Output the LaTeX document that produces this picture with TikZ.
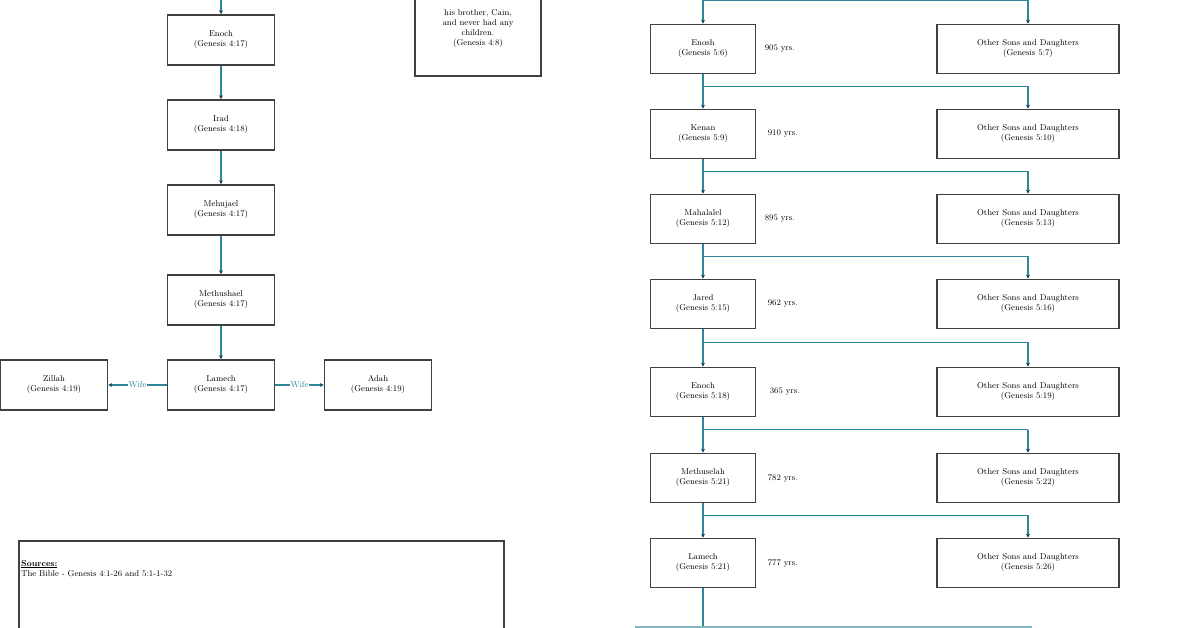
\documentclass[tikz,border=0pt]{standalone}
\usepackage{tikz}
\usetikzlibrary{arrows.meta}
\usetikzlibrary{calc}
\usetikzlibrary{positioning}
\definecolor{linkteal}{RGB}{45,135,155}
\definecolor{tipblue}{RGB}{20,60,80}
\begin{document}
\begin{tikzpicture}[x=1pt,y=-1pt,font=\fontsize{8.5}{10}\selectfont\rmfamily]
	\useasboundingbox (0,0) rectangle (1196,628);
	\clip (0,0) rectangle (1196,628);
	\tikzset{box/.style={draw=black!75,line width=1.6pt,align=center,inner sep=1pt},
	         link/.style={draw=linkteal,line width=1.6pt},
	         arr/.style={link,-{Stealth[tipblue,length=4pt,width=4pt]}}}
	\begin{scope}[every node/.style={box,minimum width=107pt,minimum height=50pt}]
		\node (enoch) at (221,40) {Enoch\\(Genesis 4:17)};
		\node (irad) at (221,125) {Irad\\(Genesis 4:18)};
		\node (mehujael) at (221,210) {Mehujael\\(Genesis 4:17)};
		\node (methushael) at (221,300) {Methushael\\(Genesis 4:17)};
		\node (lamechA) at (221,385) {Lamech\\(Genesis 4:17)};
		\node (zillah) at (54,385) {Zillah\\(Genesis 4:19)};
		\node (adah) at (378,385) {Adah\\(Genesis 4:19)};
	\end{scope}
	\node[box,minimum width=126pt,minimum height=110pt,anchor=south] (abel) at (478,77)
		{~\\~\\his brother, Cain,\\and never had any\\children.\\(Genesis 4:8)};
	% line of Seth
	\begin{scope}[every node/.style={box,minimum width=105pt,minimum height=49pt}]
		\node (enosh) at (703,49) {Enosh\\(Genesis 5:6)};
		\node (kenan) at (703,134) {Kenan\\(Genesis 5:9)};
		\node (mahalalel) at (703,219) {Mahalalel\\(Genesis 5:12)};
		\node (jared) at (703,304) {Jared\\(Genesis 5:15)};
		\node (enochB) at (703,392) {Enoch\\(Genesis 5:18)};
		\node (methuselah) at (703,478) {Methuselah\\(Genesis 5:21)};
		\node (lamechB) at (703,563) {Lamech\\(Genesis 5:21)};
	\end{scope}
	\begin{scope}[every node/.style={box,minimum width=182pt,minimum height=49pt}]
		\node (os1) at (1028,49) {Other Sons and Daughters\\(Genesis 5:7)};
		\node (os2) at (1028,134) {Other Sons and Daughters\\(Genesis 5:10)};
		\node (os3) at (1028,219) {Other Sons and Daughters\\(Genesis 5:13)};
		\node (os4) at (1028,304) {Other Sons and Daughters\\(Genesis 5:16)};
		\node (os5) at (1028,392) {Other Sons and Daughters\\(Genesis 5:19)};
		\node (os6) at (1028,478) {Other Sons and Daughters\\(Genesis 5:22)};
		\node (os7) at (1028,563) {Other Sons and Daughters\\(Genesis 5:26)};
	\end{scope}
	\begin{scope}[every node/.style={anchor=west}]
		\node[right=5pt of enosh] {905 yrs.};
		\node[right=8pt of kenan] {910 yrs.};
		\node[right=5pt of mahalalel] {895 yrs.};
		\node[right=8pt of jared] {962 yrs.};
		\node[right=10pt of enochB] {365 yrs.};
		\node[right=8pt of methuselah] {782 yrs.};
		\node[right=8pt of lamechB] {777 yrs.};
	\end{scope}
	% sources
	\node[box,minimum width=485pt,minimum height=120pt,anchor=north west] (sources) at (18,540) {};
	\node[anchor=north west,align=left,inner sep=0pt] (srctext) at ([shift={(3,20)}]sources.north west)
		{\underline{\textbf{Sources:}}\\The Bible - Genesis 4:1-26 and 5:1-1-32};
	\node[draw=linkteal!60,line width=1.6pt,minimum width=395pt,minimum height=40pt,anchor=north west] (next) at (635,626) {};
	% connectors
	\coordinate (topL) at (703,-5);
	\draw[arr] (topL) -- (enosh);
	\draw[arr] (1028,-5) -- (os1);
	\draw[link] (703,0) -- (1028,0);
	\foreach \a/\b/\c in {enosh/kenan/os2,kenan/mahalalel/os3,mahalalel/jared/os4,
	                      jared/enochB/os5,enochB/methuselah/os6,methuselah/lamechB/os7}{
		\draw[arr] (\a) -- (\b);
		\coordinate (h) at ($(\a.south)!0.35!(\b.north)$);
		\draw[link] (h) -- (h -| \c.north);
		\draw[arr] (h -| \c.north) -- (\c);
	}
	\draw[link] (lamechB) -- (next.north -| lamechB);
	\draw[arr] (221,-5) -- (enoch);
	\draw[arr] (enoch) -- (irad);
	\draw[arr] (irad) -- (mehujael);
	\draw[arr] (mehujael) -- (methushael);
	\draw[arr] (methushael) -- (lamechA);
	\draw[arr] (lamechA) -- node[fill=white,inner sep=1pt,text=linkteal]{Wife} (zillah);
	\draw[arr] (lamechA) -- node[fill=white,inner sep=1pt,text=linkteal]{Wife} (adah);
\end{tikzpicture}
\end{document}
